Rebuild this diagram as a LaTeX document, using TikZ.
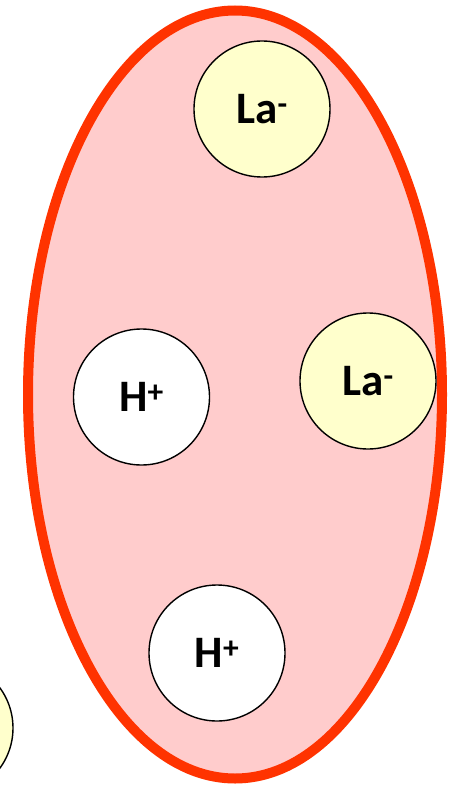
\documentclass[tikz,border=0pt]{standalone}
\usepackage{fontspec}
\setmainfont{Carlito}
\usepackage{xcolor}
\usepackage{tikz}
\usetikzlibrary{positioning}

\definecolor{drop}{HTML}{FFCCCC}
\definecolor{dropline}{HTML}{FF3300}
\definecolor{anion}{HTML}{FFFFCC}

\begin{document}
\begin{tikzpicture}[x=1pt, y=-1pt,
    ion/.style={draw, circle, line width=1.4pt, minimum size=136pt, inner sep=0pt,
                font=\fontsize{45}{50}\selectfont\bfseries},
    every node/.style={align=center}]
  \useasboundingbox (0,0) rectangle (462,789);

  % droplet
  \draw[line width=10pt, draw=dropline, fill=drop] (235,394.5) ellipse (207pt and 384pt);

  \node[ion, fill=anion] (laA) at (262,109) {La\textsuperscript{-}};
  \node[ion, fill=white] (hA) at (141.5,397) {H\textsuperscript{+}};
  \node[ion, fill=anion] (laB) at (368,381) {La\textsuperscript{-}};
  \node[ion, fill=white] (hB) at (217,653) {H\textsuperscript{+}};

  % neighbour cut at the edge
  \node[ion, fill=anion] (laC) at (-55,728) {};
\end{tikzpicture}
\end{document}
